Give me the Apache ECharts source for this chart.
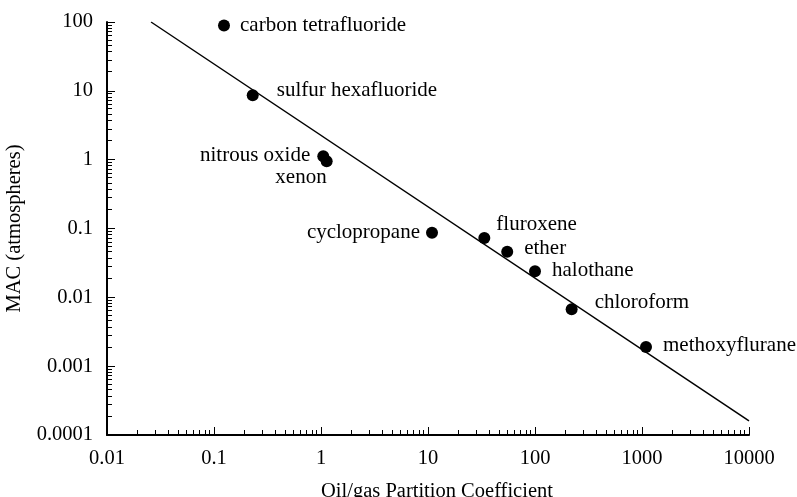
<!DOCTYPE html>
<html>
<head>
<meta charset="utf-8">
<script src="https://cdn.jsdelivr.net/npm/echarts@6/dist/echarts.min.js"></script>
<style>
html, body { margin: 0; padding: 0; background: #fff; }
#chart { width: 797px; height: 497px; }
</style>
</head>
<body>
<div id="chart"></div>
<script>
// anaesthetics: oil/gas partition coefficient vs MAC
var agents = ['carbon tetrafluoride', 'sulfur hexafluoride', 'nitrous oxide', 'xenon', 'cyclopropane',
    'fluroxene', 'ether', 'halothane', 'chloroform', 'methoxyflurane'];
var oilGas = [0.124, 0.23, 1.05, 1.13, 10.9, 33.6, 55, 100, 220, 1090];
var mac = [89, 8.6, 1.12, 0.95, 0.087, 0.073, 0.046, 0.024, 0.0067, 0.0019];
// fitted line end points
var fitX = [0.0258, 10000];
var fitY = [100, 0.00016];
var xTickLabels = ['0.01', '0.1', '1', '10', '100', '1000', '10000'];
var yTickLabels = ['0.0001', '0.001', '0.01', '0.1', '1', '10', '100'];

var font = 'Liberation Serif';

// label placement per agent (relative to the dot)
var labelPlace = {
    'carbon tetrafluoride': { position: 'right', distance: 10 },
    'sulfur hexafluoride': { position: 'right', distance: 18, offset: [0, -5] },
    'nitrous oxide': { position: 'left', distance: 7, offset: [0, -1] },
    'xenon': { position: [6, 22], align: 'right', verticalAlign: 'middle' },
    'cyclopropane': { position: 'left', distance: 6 },
    'fluroxene': { position: [18, -7], align: 'left', verticalAlign: 'middle' },
    'ether': { position: 'right', distance: 11, offset: [0, -3] },
    'halothane': { position: 'right', distance: 11, offset: [0, -1] },
    'chloroform': { position: 'right', distance: 17, offset: [0, -7] },
    'methoxyflurane': { position: 'right', distance: 11, offset: [0, -1] }
};

var points = [];
for (var i = 0; i < agents.length; i++) {
    var lp = labelPlace[agents[i]];
    points.push({
        name: agents[i],
        value: [oilGas[i], mac[i]],
        label: Object.assign({ show: true, formatter: agents[i] }, lp)
    });
}

var chart = echarts.init(document.getElementById('chart'));
var option = {
    backgroundColor: '#fff',
    animation: false,
    textStyle: { fontFamily: font },
    grid: { left: 107, top: 22, right: 48, bottom: 62, containLabel: false, outerBoundsMode: 'none' },
    xAxis: {
        type: 'log',
        logBase: 10,
        min: 0.01,
        max: 10000,
        splitNumber: 6,
        name: 'Oil/gas Partition Coefficient',
        nameLocation: 'middle',
        nameGap: 46,
        nameTextStyle: { fontFamily: font, fontSize: 20.5, color: '#000', padding: [0, 0, 0, 18] },
        axisLine: { lineStyle: { color: '#000', width: 2 } },
        axisTick: { inside: true, length: 8, lineStyle: { color: '#000', width: 1 } },
        minorTick: { show: true, splitNumber: 10, length: 5, lineStyle: { color: '#000', width: 1 } },
        axisLabel: {
            fontFamily: font, fontSize: 20.5, color: '#000', margin: 13,
            formatter: function (v) { return xTickLabels[Math.round(Math.log10(v)) + 2]; }
        },
        splitLine: { show: false }
    },
    yAxis: {
        type: 'log',
        logBase: 10,
        min: 0.0001,
        max: 100,
        splitNumber: 6,
        name: 'MAC (atmospheres)',
        nameLocation: 'middle',
        nameGap: 82,
        nameTextStyle: { fontFamily: font, fontSize: 20.5, color: '#000' },
        axisLine: { lineStyle: { color: '#000', width: 2 } },
        axisTick: { inside: true, length: 8, lineStyle: { color: '#000', width: 1 } },
        minorTick: { show: true, splitNumber: 10, length: 5, lineStyle: { color: '#000', width: 1 } },
        axisLabel: {
            fontFamily: font, fontSize: 20.5, color: '#000', margin: 14,
            formatter: function (v) { return yTickLabels[Math.round(Math.log10(v)) + 4]; }
        },
        splitLine: { show: false }
    },
    series: [{
        type: 'line',
        data: [[fitX[0], fitY[0]], [fitX[1], fitY[1]]],
        symbol: 'none',
        lineStyle: { color: '#000', width: 1.5 },
        silent: true
    }, {
        type: 'scatter',
        data: points,
        symbol: 'circle',
        symbolSize: 12,
        itemStyle: { color: '#000', opacity: 1 },
        label: { fontFamily: font, fontSize: 21, color: '#000' }
    }]
};
chart.setOption(option);
</script>
</body>
</html>
